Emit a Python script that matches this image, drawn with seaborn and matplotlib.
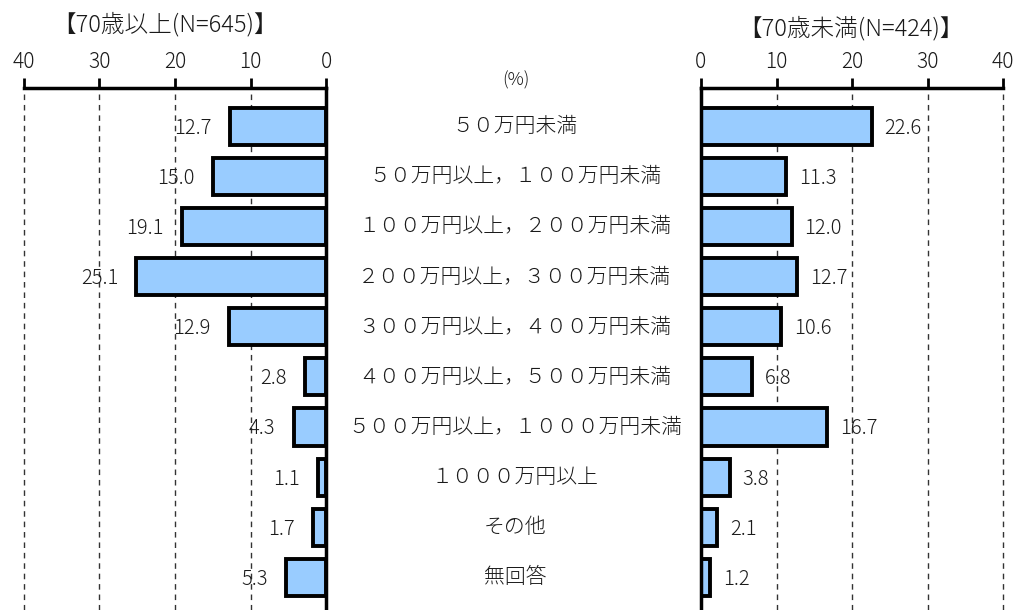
import matplotlib
matplotlib.use("Agg")
import matplotlib.pyplot as plt
import matplotlib.transforms as mtransforms
import seaborn as sns
import pandas as pd

# Household income brackets
categories = [
    "５０万円未満",
    "５０万円以上，１００万円未満",
    "１００万円以上，２００万円未満",
    "２００万円以上，３００万円未満",
    "３００万円以上，４００万円未満",
    "４００万円以上，５００万円未満",
    "５００万円以上，１０００万円未満",
    "１０００万円以上",
    "その他",
    "無回答",
]
over70 = [12.7, 15.0, 19.1, 25.1, 12.9, 2.8, 4.3, 1.1, 1.7, 5.3]
under70 = [22.6, 11.3, 12.0, 12.7, 10.6, 6.8, 16.7, 3.8, 2.1, 1.2]
ticks = [0, 10, 20, 30, 40]
title_left = "【70歳以上(N=645)】"
title_right = "【70歳未満(N=424)】"
unit_label = "(%)"

sns.set_theme(style="white")
plt.rcParams["font.family"] = ["Noto Sans CJK JP", "DejaVu Sans"]
plt.rcParams["font.weight"] = "light"

fig = plt.figure(figsize=(10.18, 6.10), dpi=100)
W, H = 1018, 610
top = 1 - 88 / H
axL = fig.add_axes([24 / W, 0, (326 - 24) / W, top])
axR = fig.add_axes([701 / W, 0, (1003 - 701) / W, top])

df = pd.DataFrame({"cat": categories, "over": over70, "under": under70})
bar_color = "#99CCFF"
text_color = "#1a1a1a"

for ax, col in ((axL, "over"), (axR, "under")):
    sns.barplot(data=df, x=col, y="cat", ax=ax, color=bar_color,
                edgecolor="black", linewidth=2.8, width=0.74,
                saturation=1, orient="h")
    ax.set_ylim(9.65, -0.76)
    ax.set_xlabel("")
    ax.set_ylabel("")
    ax.set_yticks([])
    ax.set_xticks(ticks)
    ax.set_xticklabels([str(t) for t in ticks], fontsize=15, color=text_color)
    ax.xaxis.tick_top()
    ax.tick_params(axis="x", direction="out", length=7, width=2,
                   color="black", pad=4)
    for x in ticks[1:]:
        ax.axvline(x, color="#333333", linestyle=(0, (4, 3.5)),
                   linewidth=1, zorder=0, clip_on=False)
    for s in ax.spines.values():
        s.set_visible(False)
    ax.spines["top"].set_visible(True)
    ax.spines["top"].set_linewidth(2.5)
    ax.spines["top"].set_color("black")
    ax.patch.set_alpha(0)

axL.set_xlim(40, 0)
axR.set_xlim(0, 40)
axL.spines["right"].set_visible(True)
axL.spines["right"].set_linewidth(2.5)
axL.spines["right"].set_color("black")
axR.spines["left"].set_visible(True)
axR.spines["left"].set_linewidth(2.5)
axR.spines["left"].set_color("black")

# Value labels beside each bar
for i, v in enumerate(over70):
    axL.text(v + 2.4, i + 0.04, f"{v:.1f}", ha="right", va="center",
             fontsize=14.5, color=text_color)
for i, v in enumerate(under70):
    axR.text(v + 1.7, i + 0.04, f"{v:.1f}", ha="left", va="center",
             fontsize=14.5, color=text_color)

# Category labels between the two panels
trans = mtransforms.blended_transform_factory(fig.transFigure, axL.transData)
for i, c in enumerate(categories):
    fig.text(515 / W, i, c, transform=trans, ha="center", va="center",
             fontsize=15, color=text_color)

fig.text(516 / W, 1 - 80 / H, unit_label, ha="center", va="center",
         fontsize=13, color=text_color)
fig.text(165 / W, 1 - 25 / H, title_left, ha="center", va="center",
         fontsize=17, color=text_color)
fig.text(851 / W, 1 - 29 / H, title_right, ha="center", va="center",
         fontsize=17, color=text_color)

fig.savefig("out.png", dpi=100)
